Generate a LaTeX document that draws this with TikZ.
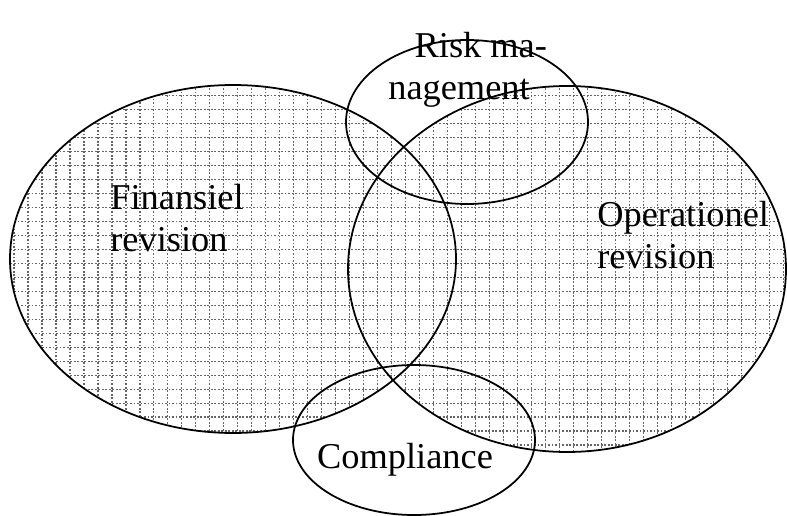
\documentclass[tikz,border=0pt]{standalone}
\usepackage{fontspec}
\setmainfont{Liberation Serif}

\tikzset{
	setring/.style={line width=1pt},
	gridline/.style={black!60,dash pattern=on 1pt off 1pt,line width=0.6pt},
	setlabel/.style={inner sep=0pt,align=left,font=\fontsize{20.7}{24}\selectfont}
}

\begin{document}
\begin{tikzpicture}[x=0.02cm,y=0.02cm]
		% fix the page size
		\useasboundingbox (0,0) rectangle (787,515);

		% the centers of the four sets
		\coordinate (fin) at (233,256);
		\coordinate (ope) at (567,246);
		\coordinate (risk) at (467,393);
		\coordinate (comp) at (414,75);

		% grid inside the two large sets
		\foreach \c/\rx/\ry in {fin/223/174, ope/219/183} {
			\begin{scope}
				\clip (\c) ellipse[x radius=\rx, y radius=\ry];
				\draw[gridline] (0,0) grid[step=0.28cm] (787,515);
			\end{scope}
		}

		% draw the outlines
		\draw[setring] (fin) ellipse[x radius=223, y radius=174];
		\draw[setring] (ope) ellipse[x radius=219, y radius=183];
		\draw[setring] (risk) ellipse[x radius=121, y radius=82];
		\draw[setring] (comp) ellipse[x radius=121, y radius=75];

		% the labels
		\node[setlabel,anchor=west] (finlabel) at (110,297) {Finansiel\\revision};
		\node[setlabel,anchor=west] (opelabel) at (597,280) {Operationel\\revision};
		\node[setlabel,align=center] (risklabel) at (459,445) {\hspace*{1.2em}Risk ma-\\nagement};
		\node[setlabel] (complabel) at (405,55) {Compliance};
\end{tikzpicture}
\end{document}
